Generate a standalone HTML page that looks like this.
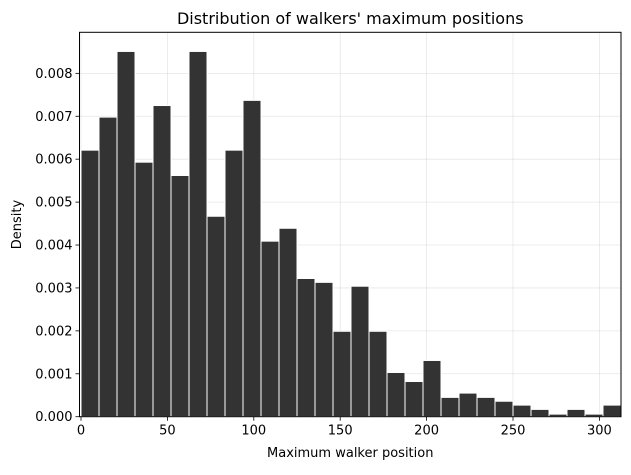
<!DOCTYPE html>
<html><head><meta charset="utf-8"><style>
html,body{margin:0;padding:0;background:#fff;}
svg text{font-family:"DejaVu Sans","Liberation Sans",sans-serif;fill:#000;}
</style></head><body>
<svg id="chart" width="631" height="470" xmlns="http://www.w3.org/2000/svg">
<rect x="0" y="0" width="631" height="470" fill="#fff"/>
<g id="grid"></g>
<g id="bars"></g>
<g id="axes"></g>
</svg>
<script>
const binCount = 30;
const binStart = 0;
const binEnd = 312.5;
const densities = [0.00621,0.00698,0.00851,0.00593,0.00725,0.00562,0.00851,0.00467,0.00621,0.00737,0.00409,0.00439,0.00322,0.00313,0.00199,0.00304,0.00199,0.00103,0.00082,0.00131,0.00045,0.00055,0.00045,0.00036,0.00027,0.00017,0.00006,0.00017,0.00006,0.00027];
const xTicks = [0,50,100,150,200,250,300];
const yTicks = [0,0.001,0.002,0.003,0.004,0.005,0.006,0.007,0.008];
const yTickLabels = ["0.000","0.001","0.002","0.003","0.004","0.005","0.006","0.007","0.008"];

const NS="http://www.w3.org/2000/svg";
const L=79.5,R=621,T=32.3,B=416.7;
const xMin=-0.87,xMax=312.5;
function X(v){return L+(v-xMin)/(xMax-xMin)*(R-L);}
function Y(v){return B-v/0.001*42.92;}
function mk(tag,attrs,parent){const e=document.createElementNS(NS,tag);for(const k in attrs)e.setAttribute(k,attrs[k]);parent.appendChild(e);return e;}
const grid=document.getElementById('grid'),bars=document.getElementById('bars'),axes=document.getElementById('axes');
xTicks.forEach(t=>{const l=mk('line',{x1:X(t),x2:X(t),y1:T,y2:B,stroke:'#b0b0b0','stroke-opacity':0.3,'stroke-width':0.8},grid);

});
yTicks.forEach(t=>{const l=mk('line',{x1:L,x2:R,y1:Y(t),y2:Y(t),stroke:'#b0b0b0','stroke-opacity':0.3,'stroke-width':0.8},grid);

});
const bw=(binEnd-binStart)/binCount;
densities.forEach((d,i)=>{const x0=X(binStart+i*bw),x1=X(binStart+(i+1)*bw);
const r=mk('rect',{x:x0,y:Y(d),width:x1-x0,height:B-Y(d),fill:'#333333',stroke:'#ffffff','stroke-width':1},bars);

});
const frame=mk('rect',{x:L,y:T,width:R-L,height:B-T,fill:'none',stroke:'#000','stroke-width':1},axes);


xTicks.forEach(t=>{mk('line',{x1:X(t),x2:X(t),y1:B,y2:B+4,stroke:'#000','stroke-width':0.8},axes);
const tx=mk('text',{x:X(t),y:B+18,'text-anchor':'middle','font-size':13},axes);tx.textContent=t;

});
yTicks.forEach((t,i)=>{mk('line',{x1:L-4,x2:L,y1:Y(t),y2:Y(t),stroke:'#000','stroke-width':0.8},axes);
const tx=mk('text',{x:L-7,y:Y(t)+4.5,'text-anchor':'end','font-size':13},axes);tx.textContent=yTickLabels[i];

});
const title=mk('text',{x:(L+R)/2,y:24,'text-anchor':'middle','font-size':16},axes);title.textContent="Distribution of walkers' maximum positions";


const xl=mk('text',{x:(L+R)/2,y:457,'text-anchor':'middle','font-size':13},axes);xl.textContent="Maximum walker position";


const yl=mk('text',{x:21,y:(T+B)/2,'text-anchor':'middle','font-size':13,transform:'rotate(-90 21 '+((T+B)/2)+')'},axes);yl.textContent="Density";


</script>
</body></html>
